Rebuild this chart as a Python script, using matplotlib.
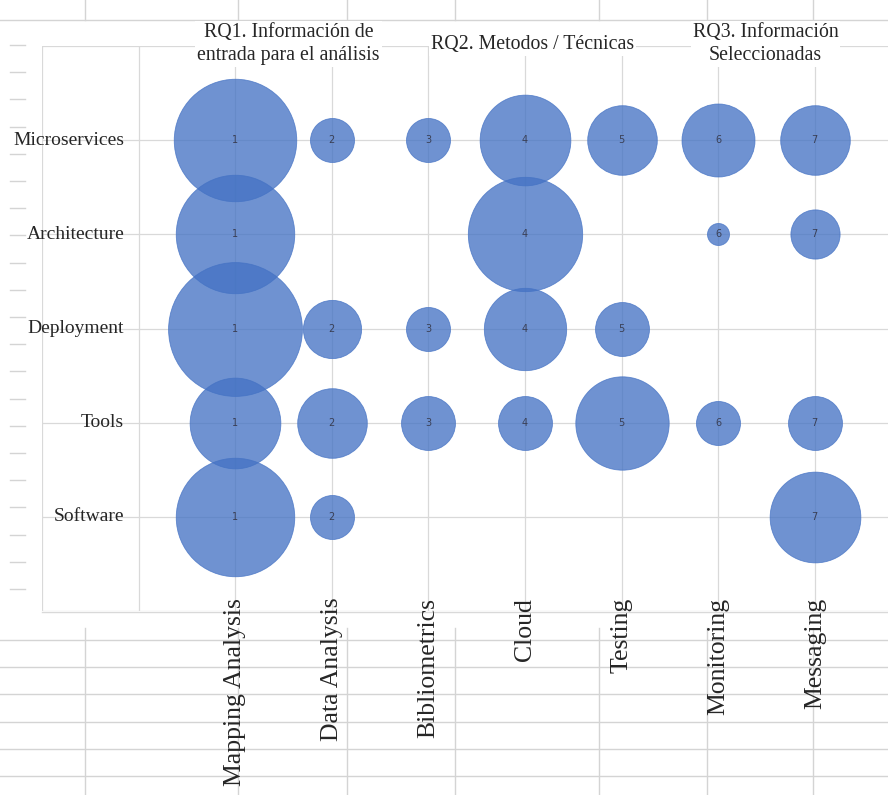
import matplotlib
matplotlib.use('Agg')
import matplotlib.pyplot as plt
import numpy as np

# Datos del gráfico de burbujas
categorias = ['Mapping Analysis', 'Data Analysis', 'Bibliometrics', 'Cloud',
              'Testing', 'Monitoring', 'Messaging']
temas = ['Microservices', 'Architecture', 'Deployment', 'Tools', 'Software']
etiquetas = ['1', '2', '3', '4', '5', '6', '7']

# tamaño de burbuja por tema (0 = sin burbuja)
microservices = [31, 4, 4, 17, 10, 11, 10]
architecture = [29, 0, 0, 27, 0, 1, 5]
deployment = [37, 7, 4, 14, 6, 0, 0]
tools = [17, 10, 6, 6, 18, 4, 6]
software = [29, 4, 0, 0, 0, 0, 17]

titulos = ['RQ1. Información de\nentrada para el análisis',
           'RQ2. Metodos / Técnicas',
           'RQ3. Información\nSeleccionadas']
titulos_x = [1.55, 4.08, 6.49]

plt.rcParams['font.family'] = ['Liberation Serif', 'DejaVu Serif']

W, H = 888, 795
fig = plt.figure(figsize=(W / 100, H / 100), dpi=100)

# fondo tipo hoja de cálculo (coordenadas en píxeles)
bg = fig.add_axes([0, 0, 1, 1])
bg.set_xlim(0, W)
bg.set_ylim(H, 0)
bg.axis('off')
grid_c = '#D4D4D4'
bg.plot([0, W], [20, 20], color=grid_c, lw=1)
bg.plot([42, W], [612, 612], color='#D9D9D9', lw=1)
for xc in [85, 238, 347, 455, 599, 707, 813]:
    bg.plot([xc, xc], [0, 20], color=grid_c, lw=1)
    bg.plot([xc, xc], [628, H], color=grid_c, lw=1)
for yr in np.arange(640, H, 27.2):
    bg.plot([0, W], [yr, yr], color=grid_c, lw=1)
for yr in np.arange(45, 612, 27.2):
    bg.plot([10, 25], [yr, yr], color=grid_c, lw=1)

# área del gráfico
ax = fig.add_axes([42 / W, (H - 611) / H, (W - 42) / W, 565 / H])
ax.set_xlim(-1, (W - 42) / 96.6 - 1)
ax.set_ylim(0, 6)
ax.set_xticks(np.arange(-1, 8))
ax.set_yticks(np.arange(0, 7))
ax.grid(True, color='#D9D9D9', lw=0.9)
ax.tick_params(length=0, labelbottom=False, labelleft=False)
for s in ax.spines.values():
    s.set_visible(False)
ax.set_axisbelow(True)

filas = [microservices, architecture, deployment, tools, software]
for i, (tema, valores) in enumerate(zip(temas, filas)):
    y = len(temas) - i
    for j, v in enumerate(valores):
        if v <= 0:
            continue
        ax.scatter(j + 1, y, s=v * 251, color='#4472C4', alpha=0.77,
                   edgecolors='#4472C4', linewidths=0.6, zorder=3)
        ax.text(j + 1, y, etiquetas[j], ha='center', va='center',
                fontsize=7, color='#3A3F55', zorder=4, family='DejaVu Sans')
    ax.text(-0.15, y, tema, ha='right', va='center', fontsize=14,
            color='#262626')

for j, cat in enumerate(categorias):
    ax.text(j + 1, 0.14, cat, rotation=90, ha='center', va='top',
            fontsize=18.5, color='#262626', clip_on=False)

for t, tx in zip(titulos, titulos_x):
    ax.text(tx, 6.02, t, ha='center', va='center', fontsize=14.3,
            color='#262626', linespacing=1.3, zorder=5,
            bbox=dict(boxstyle='square,pad=0.1', facecolor='white',
                      edgecolor='none'))

fig.savefig('out.png', dpi=100)
